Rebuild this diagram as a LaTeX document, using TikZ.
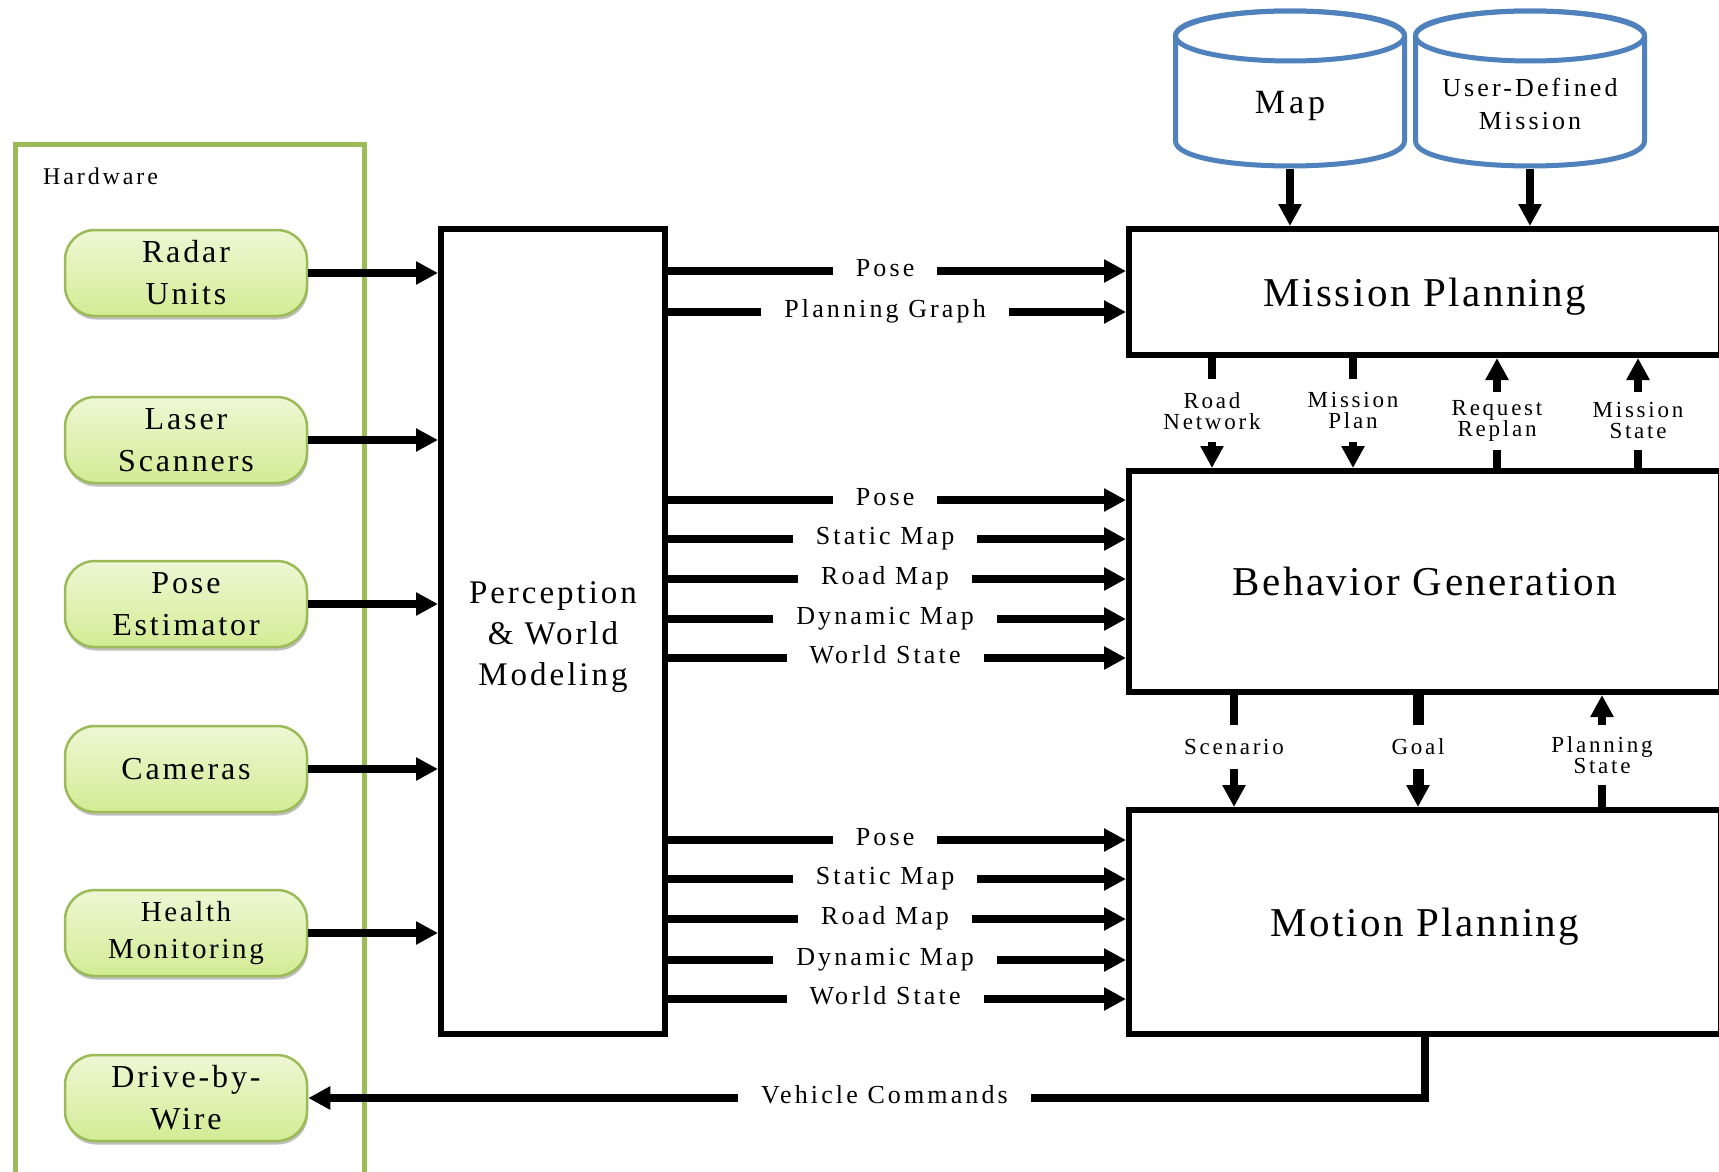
\documentclass[tikz,border=0pt]{standalone}
\usepackage{fontspec}
\setmainfont{Liberation Serif}
\newfontfamily\fLab[LetterSpace=12]{Liberation Serif}
\newfontfamily\fVert[LetterSpace=12]{Liberation Serif}
\newfontfamily\fPill[LetterSpace=9]{Liberation Serif}
\newfontfamily\fBig[LetterSpace=6]{Liberation Serif}
\usetikzlibrary{arrows.meta,shadows}
\definecolor{hwgreen}{RGB}{155,187,89}
\definecolor{pillTop}{RGB}{238,247,212}
\definecolor{pillBot}{RGB}{210,236,148}
\definecolor{cylblue}{RGB}{79,129,189}
\tikzset{
  box/.style={draw=black, line width=6pt, fill=white, inner sep=0pt, text height=28pt, text depth=0pt, font=\fBig\fontsize{41}{41}\selectfont},
  pill/.style={draw=hwgreen, line width=2.5pt, rounded corners=30pt, top color=pillTop, bottom color=pillBot,
    minimum width=242pt, minimum height=86pt, align=center, inner sep=0pt,
    font=\fPill\fontsize{32}{42}\selectfont,
    drop shadow={shadow xshift=1pt, shadow yshift=-3.5pt, opacity=0.25, fill=black}},
  arr/.style={line width=8pt, -{Triangle[length=22pt,width=22pt]}},
  hl/.style={fill=white, font=\fLab\fontsize{26}{26}\selectfont, text height=17pt, text depth=6pt, inner xsep=23pt, inner ysep=1pt},
  vl/.style={fill=white, font=\fVert\fontsize{23}{21}\selectfont, align=center, inner xsep=3pt, inner ysep=0pt},
  cyl/.style={draw=cylblue, line width=5pt, fill=white},
}
\begin{document}
\begin{tikzpicture}[x=1pt, y=-1pt]
\useasboundingbox (0,0) rectangle (1719,1172);
\clip (0,0) rectangle (1719,1172);
\fill[white] (0,0) rectangle (1719,1172);

% Hardware frame
\draw[draw=hwgreen, line width=5pt] (15.5,1200) |- (364.5,144.5) -- (364.5,1200);
\node[font=\fLab\fontsize{24}{24}\selectfont, anchor=west, inner sep=0pt] (hw) at (43,176) {Hardware};

% Pills
\node[pill] (radar) at (186,273) {Radar\\Units};
\node[pill] (laser) at (186,440) {Laser\\Scanners};
\node[pill] (pose) at (186,604) {Pose\\Estimator};
\node[pill] (cam) at (186,769) {Cameras};
\node[pill, font=\fPill\fontsize{29}{37}\selectfont] (health) at (186,933) {Health\\Monitoring};
\node[pill] (dbw) at (186,1098) {Drive-by-\\Wire};

% Main boxes
\node[box, minimum width=224pt, minimum height=805pt] (P) at (553,631.5) {};
\node[font=\fPill\fontsize{33}{41}\selectfont, align=center] (Ptxt) at (553,637) {Perception\\\& World\\Modeling};
\node[box, minimum width=592pt, minimum height=126pt] (MP) at (1425,292) {Mission Planning};
\node[box, minimum width=592pt, minimum height=221pt] (BG) at (1425,581.5) {Behavior Generation};
\node[box, minimum width=592pt, minimum height=224pt] (MoP) at (1425,922) {Motion Planning};

% Cylinders
\draw[cyl] (1175.5,36) -- (1175.5,141) .. controls (1175.5,174.3) and (1404.5,174.3) .. (1404.5,141) -- (1404.5,36) .. controls (1404.5,2.7) and (1175.5,2.7) .. cycle;
\draw[cyl] (1290,36) ellipse [x radius=114.5, y radius=25];
\draw[cyl] (1415.5,36) -- (1415.5,141) .. controls (1415.5,174.3) and (1644.5,174.3) .. (1644.5,141) -- (1644.5,36) .. controls (1644.5,2.7) and (1415.5,2.7) .. cycle;
\draw[cyl] (1530,36) ellipse [x radius=114.5, y radius=25];
\node[font=\fLab\fontsize{34}{34}\selectfont] (maptxt) at (1290,106) {Map};
\node[font=\fVert\fontsize{26}{33}\selectfont, align=center] (usrtxt) at (1530,104) {User-Defined\\Mission};
\coordinate (mapB) at (1290,168.5);
\coordinate (usrB) at (1530,168.5);
\draw[arr] (mapB) -- (mapB |- MP.north);
\draw[arr] (usrB) -- (usrB |- MP.north);

% Hardware to perception
\foreach \n in {radar,laser,pose,cam,health}
  \draw[arr] (\n.east) -- (P.west |- \n.east);

% Perception to Mission Planning
\draw[arr] (P.east |- 0,271) -- (MP.west |- 0,271) node[hl, pos=0.474] {Pose};
\draw[arr] (P.east |- 0,312) -- (MP.west |- 0,312) node[hl, pos=0.474] {Planning Graph};

% Perception to Behavior Generation
\draw[arr] (P.east |- 0,500) -- (BG.west |- 0,500) node[hl, pos=0.474] {Pose};
\draw[arr] (P.east |- 0,539) -- (BG.west |- 0,539) node[hl, pos=0.474] {Static Map};
\draw[arr] (P.east |- 0,579) -- (BG.west |- 0,579) node[hl, pos=0.474] {Road Map};
\draw[arr] (P.east |- 0,619) -- (BG.west |- 0,619) node[hl, pos=0.474] {Dynamic Map};
\draw[arr] (P.east |- 0,658) -- (BG.west |- 0,658) node[hl, pos=0.474] {World State};

% Perception to Motion Planning
\draw[arr] (P.east |- 0,840) -- (MoP.west |- 0,840) node[hl, pos=0.474] {Pose};
\draw[arr] (P.east |- 0,879) -- (MoP.west |- 0,879) node[hl, pos=0.474] {Static Map};
\draw[arr] (P.east |- 0,919) -- (MoP.west |- 0,919) node[hl, pos=0.474] {Road Map};
\draw[arr] (P.east |- 0,960) -- (MoP.west |- 0,960) node[hl, pos=0.474] {Dynamic Map};
\draw[arr] (P.east |- 0,999) -- (MoP.west |- 0,999) node[hl, pos=0.474] {World State};

% Mission <-> Behavior
\draw[arr] (1212,0 |- MP.south) -- (1212,0 |- BG.north) node[vl, pos=0.48, minimum height=63pt] {Road\\Network};
\draw[arr] (1353,0 |- MP.south) -- (1353,0 |- BG.north) node[vl, pos=0.48, minimum height=63pt] {Mission\\Plan};
\draw[arr] (1497,0 |- BG.north) -- (1497,0 |- MP.south) node[vl, pos=0.43, minimum height=58pt] {Request\\Replan};
\draw[arr] (1638,0 |- BG.north) -- (1638,0 |- MP.south) node[vl, pos=0.43, minimum height=58pt] {Mission\\State};

% Behavior <-> Motion
\draw[arr] (1234,0 |- BG.south) -- (1234,0 |- MoP.north) node[vl, pos=0.465, minimum height=44pt] {Scenario};
\draw[arr, line width=11pt] (1418,0 |- BG.south) -- (1418,0 |- MoP.north) node[vl, pos=0.465, minimum height=44pt] {Goal};
\draw[arr] (1602,0 |- MoP.north) -- (1602,0 |- BG.south) node[vl, pos=0.46, minimum height=60pt] {Planning\\State};

% Vehicle commands
\draw[arr] (1425,0 |- MoP.south) |- (dbw.east) node[hl, pos=0.742] {Vehicle Commands};
\end{tikzpicture}
\end{document}
